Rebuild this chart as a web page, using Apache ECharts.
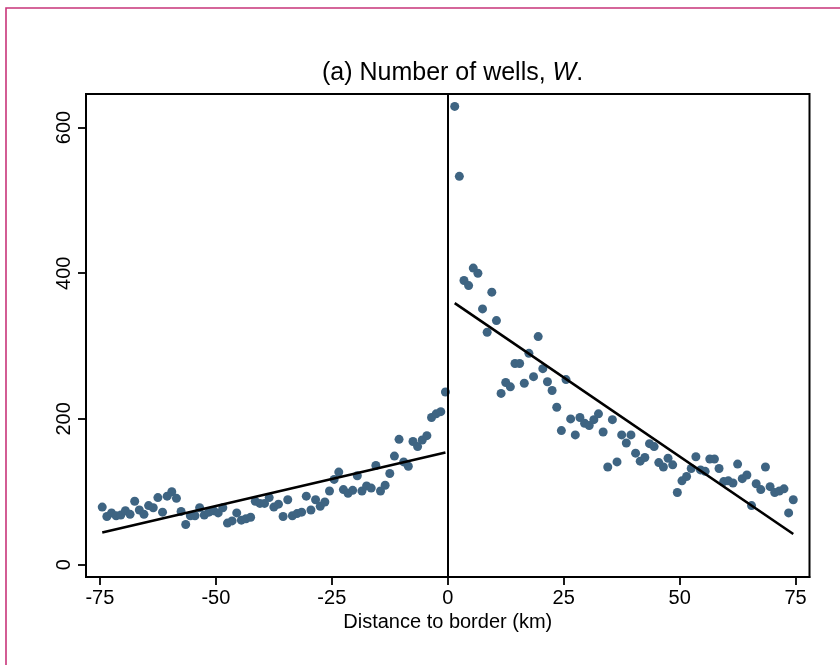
<!DOCTYPE html>
<html>
<head>
<meta charset="utf-8">
<script src="https://cdn.jsdelivr.net/npm/echarts@6/dist/echarts.min.js"></script>
<style>
html,body{margin:0;padding:0;background:#fff;}
#chart{width:840px;height:665px;}
</style>
</head>
<body>
<div id="chart"></div>
<script>
// ---- data ----
const leftX = [-74.5,-73.5,-72.5,-71.5,-70.5,-69.5,-68.5,-67.5,-66.5,-65.5,-64.5,-63.5,-62.5,-61.5,-60.5,-59.5,-58.5,-57.5,-56.5,-55.5,-54.5,-53.5,-52.5,-51.5,-50.5,-49.5,-48.5,-47.5,-46.5,-45.5,-44.5,-43.5,-42.5,-41.5,-40.5,-39.5,-38.5,-37.5,-36.5,-35.5,-34.5,-33.5,-32.5,-31.5,-30.5,-29.5,-28.5,-27.5,-26.5,-25.5,-24.5,-23.5,-22.5,-21.5,-20.5,-19.5,-18.5,-17.5,-16.5,-15.5,-14.5,-13.5,-12.5,-11.5,-10.5,-9.5,-8.5,-7.5,-6.5,-5.5,-4.5,-3.5,-2.5,-1.5,-0.5];
const leftY = [79,66,71,67,68,74,69,87,75,69,81,78,92,72,94,100,91,73,55,67,67,78,68,72,74,71,78,57,60,71,61,63,65,87,84,84,92,79,83,66,89,67,70,72,94,75,89,80,86,101,117,127,103,98,102,122,101,108,105,136,101,109,125,149,172,141,135,169,162,171,177,202,207,210,237];
const rightX = [1.5,2.5,3.5,4.5,5.5,6.5,7.5,8.5,9.5,10.5,11.5,12.5,13.5,14.5,15.5,16.5,17.5,18.5,19.5,20.5,21.5,22.5,23.5,24.5,25.5,26.5,27.5,28.5,29.5,30.5,31.5,32.5,33.5,34.5,35.5,36.5,37.5,38.5,39.5,40.5,41.5,42.5,43.5,44.5,45.5,46.5,47.5,48.5,49.5,50.5,51.5,52.5,53.5,54.5,55.5,56.5,57.5,58.5,59.5,60.5,61.5,62.5,63.5,64.5,65.5,66.5,67.5,68.5,69.5,70.5,71.5,72.5,73.5,74.5];
const rightY = [629,533,390,383,407,400,351,319,374,335,235,250,244,276,276,249,290,258,313,269,251,239,216,184,254,200,178,202,194,191,199,207,182,134,199,141,178,167,178,153,142,147,166,162,140,134,146,137,99,115,121,132,148,130,128,145,145,132,114,115,112,138,118,123,81,111,103,134,107,99,101,104,71,89];
const leftFitX = [-74.5, -0.5];
const leftFitY = [44, 154];
const rightFitX = [1.5, 74.5];
const rightFitY = [359, 42];
const xTicks = [-75, -50, -25, 0, 25, 50, 75];
const yTicks = [0, 200, 400, 600];

const pairs = (xs, ys) => xs.map((x, i) => [x, ys[i]]);
const FONT = "'Liberation Sans', Arial, Helvetica, sans-serif";
const DOT = '#3e6482';

const chart = echarts.init(document.getElementById('chart'), null, {renderer: 'canvas'});
chart.setOption({
  animation: false,
  backgroundColor: '#ffffff',
  title: {
    text: '(a) Number of wells, {i|W}.',
    left: 322,
    top: 61,
    padding: 0,
    textStyle: {
      fontFamily: FONT, fontSize: 25, fontWeight: 'normal', color: '#000',
      rich: { i: { fontFamily: FONT, fontSize: 25, fontStyle: 'italic', color: '#000' } }
    }
  },
  graphic: [{
    type: 'rect',
    shape: { x: 6, y: 8, width: 900, height: 900 },
    style: { fill: 'none', stroke: '#c8357a', lineWidth: 1.6 },
    silent: true
  }],
  grid: {
    left: 86, right: 30.5, top: 94, bottom: 88,
    show: true, borderColor: '#000', borderWidth: 2, backgroundColor: '#fff'
  },
  xAxis: {
    type: 'value', min: -78, max: 78,
    name: 'Distance to border (km)', nameLocation: 'middle', nameGap: 34,
    nameTextStyle: { fontFamily: FONT, fontSize: 20, color: '#000' },
    axisLine: { show: true, onZero: false, lineStyle: { color: '#000', width: 2 } },
    axisTick: { show: true, length: 8, lineStyle: { color: '#000', width: 1.8 }, customValues: xTicks },
    axisLabel: { fontFamily: FONT, fontSize: 20, color: '#000', margin: 11, customValues: xTicks },
    splitLine: { show: false }
  },
  yAxis: {
    type: 'value', min: -17, max: 646,
    axisLine: { show: true, onZero: false, lineStyle: { color: '#000', width: 2 } },
    axisTick: { show: true, length: 8, lineStyle: { color: '#000', width: 1.8 }, customValues: yTicks },
    axisLabel: { fontFamily: FONT, fontSize: 20, color: '#000', margin: 12, rotate: 90, customValues: yTicks },
    splitLine: { show: false }
  },
  series: [
    {
      type: 'scatter', data: pairs(leftX, leftY), symbolSize: 9,
      itemStyle: { color: DOT, opacity: 1 }, z: 2
    },
    {
      type: 'scatter', data: pairs(rightX, rightY), symbolSize: 9,
      itemStyle: { color: DOT, opacity: 1 }, z: 2
    },
    {
      type: 'line', data: pairs(leftFitX, leftFitY), symbol: 'none',
      lineStyle: { color: '#000', width: 2.6 }, z: 3
    },
    {
      type: 'line', data: pairs(rightFitX, rightFitY), symbol: 'none',
      lineStyle: { color: '#000', width: 2.6 }, z: 3,
      markLine: {
        silent: true, symbol: 'none', label: { show: false },
        lineStyle: { color: '#000', width: 2, type: 'solid' },
        data: [{ xAxis: 0 }]
      }
    }
  ]
});
</script>
</body>
</html>
